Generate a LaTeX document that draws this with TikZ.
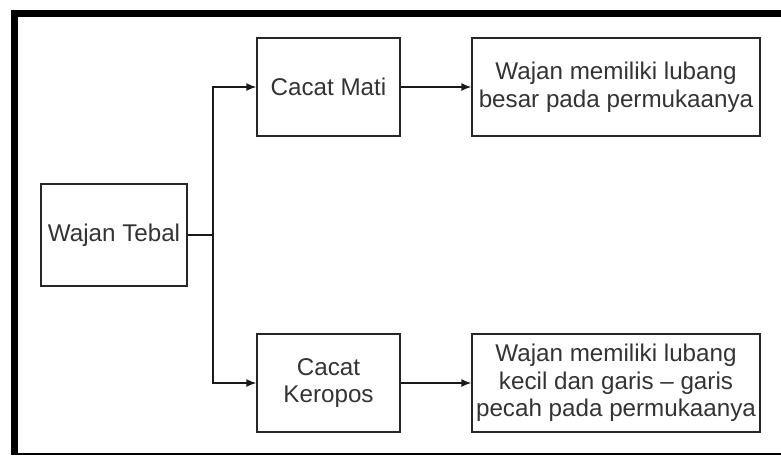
\documentclass[tikz,border=0pt]{standalone}
\usepackage{fontspec}
\setmainfont{Liberation Sans}
\usetikzlibrary{arrows.meta}
\begin{document}
\begin{tikzpicture}[x=1pt,y=-1pt,
  box/.style={draw=black!85,line width=1.4pt,inner sep=0pt,align=center,
    text=black!80,font=\fontsize{24.2}{27.5}\selectfont},
  conn/.style={draw=black!90,line width=1.4pt},
  arr/.style={conn,-{Latex[length=10pt,width=8pt]}}]
\useasboundingbox (0,0) rectangle (781,455);
% frame
\fill[black] (11,10) rectangle (18,455);
\fill[black] (11,10) rectangle (781,17);
\fill[black] (11,453) rectangle (781,455);
% nodes
\node[box,minimum width=146pt,minimum height=102pt] (wt) at (114,235) {Wajan Tebal};
\node[box,minimum width=143pt,minimum height=98pt] (cm) at (328.5,87) {Cacat Mati};
\node[box,minimum width=143pt,minimum height=98pt] (ck) at (328.5,383) {Cacat\\Keropos};
\node[box,minimum width=288pt,minimum height=98pt] (r1) at (616,87) {Wajan memiliki lubang\\besar pada permukaanya};
\node[box,minimum width=288pt,minimum height=98pt] (r2) at (616,383) {Wajan memiliki lubang\\kecil dan garis -- garis\\pecah pada permukaanya};
% connectors
\coordinate (j) at (213,235);
\draw[conn] (wt.east) -- (j);
\draw[arr] (j) |- (cm.west);
\draw[arr] (j) |- (ck.west);
\draw[arr] (cm.east) -- (r1.west);
\draw[arr] (ck.east) -- (r2.west);
\end{tikzpicture}
\end{document}
